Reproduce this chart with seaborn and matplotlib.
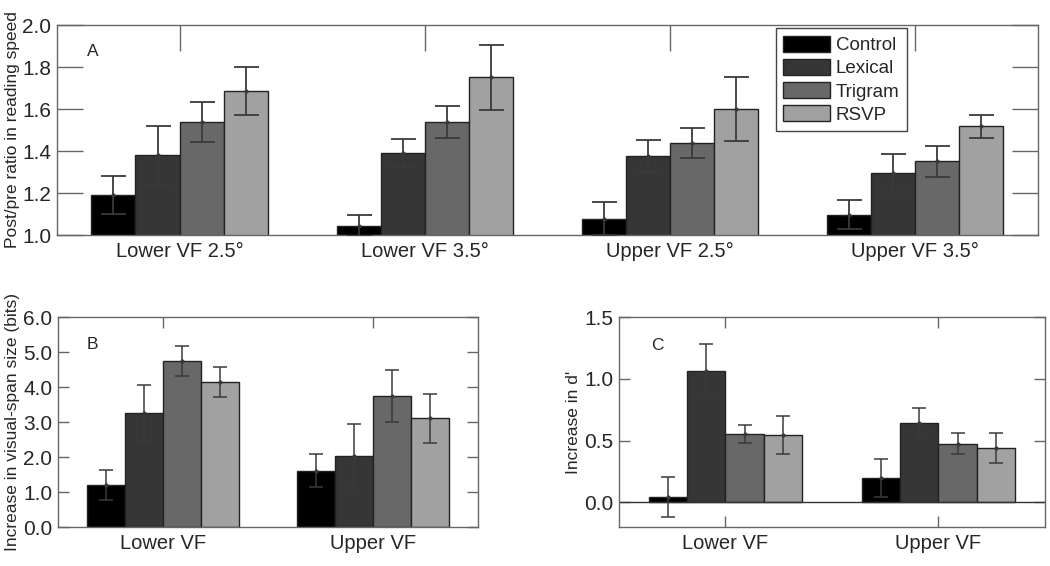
import numpy as np
import pandas as pd
import matplotlib
matplotlib.use("Agg")
import matplotlib.pyplot as plt
from matplotlib.patches import Patch
import seaborn as sns

# conditions (hue) and their bar colours
conditions = ["Control", "Lexical", "Trigram", "RSVP"]
bar_colors = ["#000000", "#363636", "#686868", "#a1a1a1"]

# panel A: post/pre reading speed ratio
a_groups = ["Lower VF 2.5°", "Lower VF 3.5°", "Upper VF 2.5°", "Upper VF 3.5°"]
a_control = [1.19, 1.045, 1.078, 1.097]
a_lexical = [1.38, 1.39, 1.376, 1.294]
a_trigram = [1.538, 1.537, 1.437, 1.351]
a_rsvp = [1.686, 1.751, 1.600, 1.517]
a_control_err = [0.09, 0.05, 0.08, 0.07]
a_lexical_err = [0.14, 0.068, 0.077, 0.09]
a_trigram_err = [0.094, 0.076, 0.072, 0.075]
a_rsvp_err = [0.116, 0.154, 0.154, 0.055]

# panel B: increase in visual-span size (bits)
b_groups = ["Lower VF", "Upper VF"]
b_control = [1.20, 1.61]
b_lexical = [3.25, 2.02]
b_trigram = [4.74, 3.74]
b_rsvp = [4.15, 3.11]
b_control_err = [0.43, 0.48]
b_lexical_err = [0.80, 0.915]
b_trigram_err = [0.42, 0.75]
b_rsvp_err = [0.43, 0.70]

# panel C: increase in d'
c_groups = ["Lower VF", "Upper VF"]
c_control = [0.043, 0.194]
c_lexical = [1.066, 0.641]
c_trigram = [0.553, 0.476]
c_rsvp = [0.546, 0.438]
c_control_err = [0.16, 0.155]
c_lexical_err = [0.212, 0.122]
c_trigram_err = [0.07, 0.084]
c_rsvp_err = [0.155, 0.12]

sns.set_style("white")
plt.rcParams["font.family"] = ["Liberation Sans", "DejaVu Sans"]

SPINE = "#666666"
ERR = "#3a3a3a"


def long_table(groups, series):
    rows = []
    for cond, vals in zip(conditions, series):
        for g, v in zip(groups, vals):
            rows.append({"group": g, "condition": cond, "value": v})
    return pd.DataFrame(rows)


def draw_panel(ax, groups, series, errs, ylim, yticks, ylabel, letter, letter_pos,
               ticklen, capsize, elw):
    df = long_table(groups, series)
    sns.barplot(data=df, x="group", y="value", hue="condition", order=groups,
                hue_order=conditions, palette=bar_colors, saturation=1,
                width=0.72, errorbar=None, edgecolor="#222222", linewidth=1.0,
                legend=False, ax=ax)
    # error bars at the centre of each seaborn bar
    for cont, err in zip(ax.containers, errs):
        xs = [b.get_x() + b.get_width() / 2 for b in cont]
        ys = [b.get_height() for b in cont]
        ax.errorbar(xs, ys, yerr=err, fmt="o", ms=2, color=ERR, ecolor=ERR,
                    elinewidth=elw, capsize=capsize, capthick=elw, zorder=5)
    ax.set_xlim(-0.5, len(groups) - 0.5)
    ax.set_ylim(*ylim)
    ax.set_yticks(yticks)
    ax.set_yticklabels([f"{t:.1f}" for t in yticks])
    ax.set_xlabel("")
    ax.set_ylabel(ylabel, fontsize=12.5, labelpad=2)
    ax.tick_params(axis="both", which="both", direction="in", length=ticklen,
                   width=1.0, color=SPINE, top=True, right=True, bottom=True,
                   left=True)
    ax.tick_params(axis="y", labelsize=15, pad=4)
    ax.tick_params(axis="x", labelsize=14.5, pad=5)
    for s in ax.spines.values():
        s.set_color(SPINE)
        s.set_linewidth(1.0)
    ax.text(letter_pos[0], letter_pos[1], letter, transform=ax.transAxes,
            fontsize=12.5, ha="left", va="center")


fig = plt.figure(figsize=(10.5, 5.66), dpi=100)
ax_a = fig.add_axes([0.0543, 0.5848, 0.934, 0.371])
ax_b = fig.add_axes([0.0552, 0.0689, 0.40, 0.371])
ax_c = fig.add_axes([0.5895, 0.0689, 0.4057, 0.371])

draw_panel(ax_a, a_groups, [a_control, a_lexical, a_trigram, a_rsvp],
           [a_control_err, a_lexical_err, a_trigram_err, a_rsvp_err],
           (1.0, 2.0), [1.0, 1.2, 1.4, 1.6, 1.8, 2.0],
           "Post/pre ratio in reading speed", "A", (0.031, 0.876),
           ticklen=19, capsize=9, elw=1.3)
draw_panel(ax_b, b_groups, [b_control, b_lexical, b_trigram, b_rsvp],
           [b_control_err, b_lexical_err, b_trigram_err, b_rsvp_err],
           (0.0, 6.0), [0.0, 1.0, 2.0, 3.0, 4.0, 5.0, 6.0],
           "Increase in visual-span size (bits)", "B", (0.069, 0.867),
           ticklen=8, capsize=5, elw=1.1)
draw_panel(ax_c, c_groups, [c_control, c_lexical, c_trigram, c_rsvp],
           [c_control_err, c_lexical_err, c_trigram_err, c_rsvp_err],
           (-0.2, 1.5), [0.0, 0.5, 1.0, 1.5],
           "Increase in d'", "C", (0.075, 0.862),
           ticklen=8, capsize=5, elw=1.1)
ax_c.axhline(0, color="#333333", lw=1.0, zorder=1)

handles = [Patch(facecolor=c, edgecolor="#222222", label=n)
           for c, n in zip(bar_colors, conditions)]
leg = ax_a.legend(handles=handles, loc="upper left", bbox_to_anchor=(0.733, 0.985),
                  fontsize=13.5, frameon=True, fancybox=False, framealpha=1,
                  edgecolor="#444444", handlelength=2.5, handleheight=0.95,
                  handletextpad=0.3, labelspacing=0.25, borderpad=0.4,
                  borderaxespad=0)
leg.get_frame().set_linewidth(1.0)

fig.savefig("out.png", dpi=100)
